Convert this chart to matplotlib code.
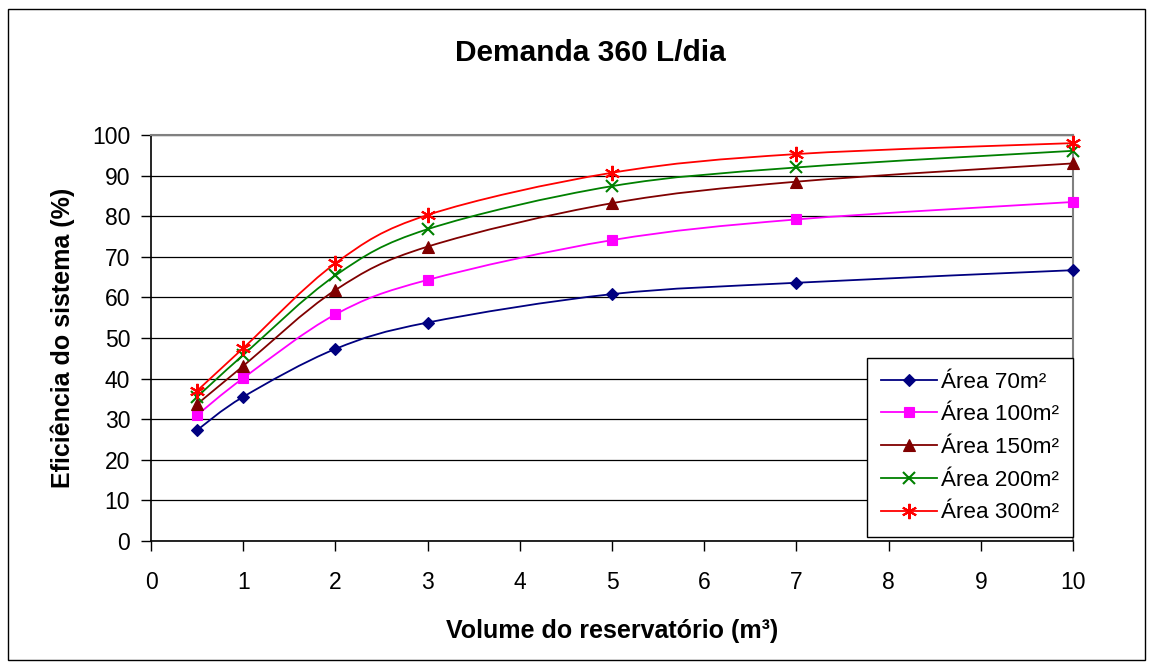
import matplotlib
matplotlib.use("Agg")
import matplotlib.pyplot as plt
from matplotlib.patches import Rectangle, PathPatch
from matplotlib.path import Path
from matplotlib.lines import Line2D

plt.rcParams['font.family'] = ['Liberation Sans', 'DejaVu Sans']

volume = [0.5, 1, 2, 3, 5, 7, 10]
area_70 = [27.3, 35.5, 47.3, 53.8, 60.8, 63.6, 66.7]
area_100 = [31.0, 40.1, 55.8, 64.3, 74.1, 79.2, 83.5]
area_150 = [33.7, 43.1, 61.8, 72.5, 83.2, 88.5, 93.0]
area_200 = [35.5, 45.8, 65.4, 76.8, 87.4, 92.0, 96.1]
area_300 = [37.0, 47.5, 68.4, 80.3, 90.7, 95.3, 98.0]
series_labels = ['Área 70m²', 'Área 100m²', 'Área 150m²', 'Área 200m²', 'Área 300m²']

colors = ['#000080', '#FF00FF', '#800000', '#008000', '#FF0000']
markers = ['D', 's', '^', 'x', (6, 2, 0)]
msizes = [6.5, 7.5, 9, 9, 11]


def smooth_path(xs, ys):
    """Cubic Bezier path through the points (smoothed line, Catmull-Rom style)."""
    pts = list(zip(xs, ys))
    verts = [pts[0]]
    codes = [Path.MOVETO]
    n = len(pts)
    for i in range(n - 1):
        p0 = pts[i - 1] if i > 0 else pts[i]
        p1 = pts[i]
        p2 = pts[i + 1]
        p3 = pts[i + 2] if i + 2 < n else pts[i + 1]
        c1 = (p1[0] + (p2[0] - p0[0]) / 6.0, p1[1] + (p2[1] - p0[1]) / 6.0)
        c2 = (p2[0] - (p3[0] - p1[0]) / 6.0, p2[1] - (p3[1] - p1[1]) / 6.0)
        verts += [c1, c2, p2]
        codes += [Path.CURVE4] * 3
    return Path(verts, codes)


fig = plt.figure(figsize=(11.51, 6.65), dpi=100)
fig.patches.append(Rectangle((0.007, 0.008), 0.988, 0.978, transform=fig.transFigure,
                             fill=False, edgecolor='black', linewidth=1.0))

ax = fig.add_axes([0.1312, 0.1865, 0.801, 0.6105])
handles = []
for ys, lab, c, m, ms in zip([area_70, area_100, area_150, area_200, area_300],
                             series_labels, colors, markers, msizes):
    mew = 1.5 if (m == 'x' or isinstance(m, tuple)) else 0.8
    ax.add_patch(PathPatch(smooth_path(volume, ys), facecolor='none',
                           edgecolor=c, linewidth=1.3, zorder=2))
    ax.plot(volume, ys, linestyle='none', marker=m, markersize=ms,
            markeredgewidth=mew, markerfacecolor=c, markeredgecolor=c,
            zorder=3, clip_on=False)
    handles.append(Line2D([], [], color=c, linewidth=1.3, marker=m, markersize=ms,
                          markeredgewidth=mew, markerfacecolor=c, markeredgecolor=c,
                          label=lab))

ax.set_xlim(0, 10)
ax.set_ylim(0, 100)
ax.set_xticks(range(0, 11))
ax.set_yticks(range(0, 101, 10))
ax.yaxis.grid(True, color='black', linewidth=0.9)
ax.set_axisbelow(True)
for s in ['top', 'right']:
    ax.spines[s].set_color('#808080')
    ax.spines[s].set_linewidth(1.5)
ax.spines['left'].set_linewidth(1.2)
ax.spines['bottom'].set_linewidth(1.2)
ax.tick_params(axis='both', labelsize=16.5, length=7, width=1, direction='out')
ax.tick_params(axis='x', pad=14.5)
ax.tick_params(axis='y', pad=8)

ax.set_xlabel('Volume do reservatório (m³)', fontsize=18, fontweight='bold', labelpad=18)
ax.set_ylabel('Eficiência do sistema (%)', fontsize=18, fontweight='bold', labelpad=12)
fig.text(0.513, 0.921, 'Demanda 360 L/dia', ha='center', va='center',
         fontsize=21.5, fontweight='bold')

leg = ax.legend(handles=handles, loc='lower right', bbox_to_anchor=(1.0, 0.01),
                fontsize=16.2, frameon=True, fancybox=False, edgecolor='black',
                framealpha=1, handlelength=2.5, handletextpad=0.2, labelspacing=0.52,
                borderpad=0.6, borderaxespad=0.0)
leg.get_frame().set_linewidth(1.0)

fig.savefig('out.png', dpi=100)
